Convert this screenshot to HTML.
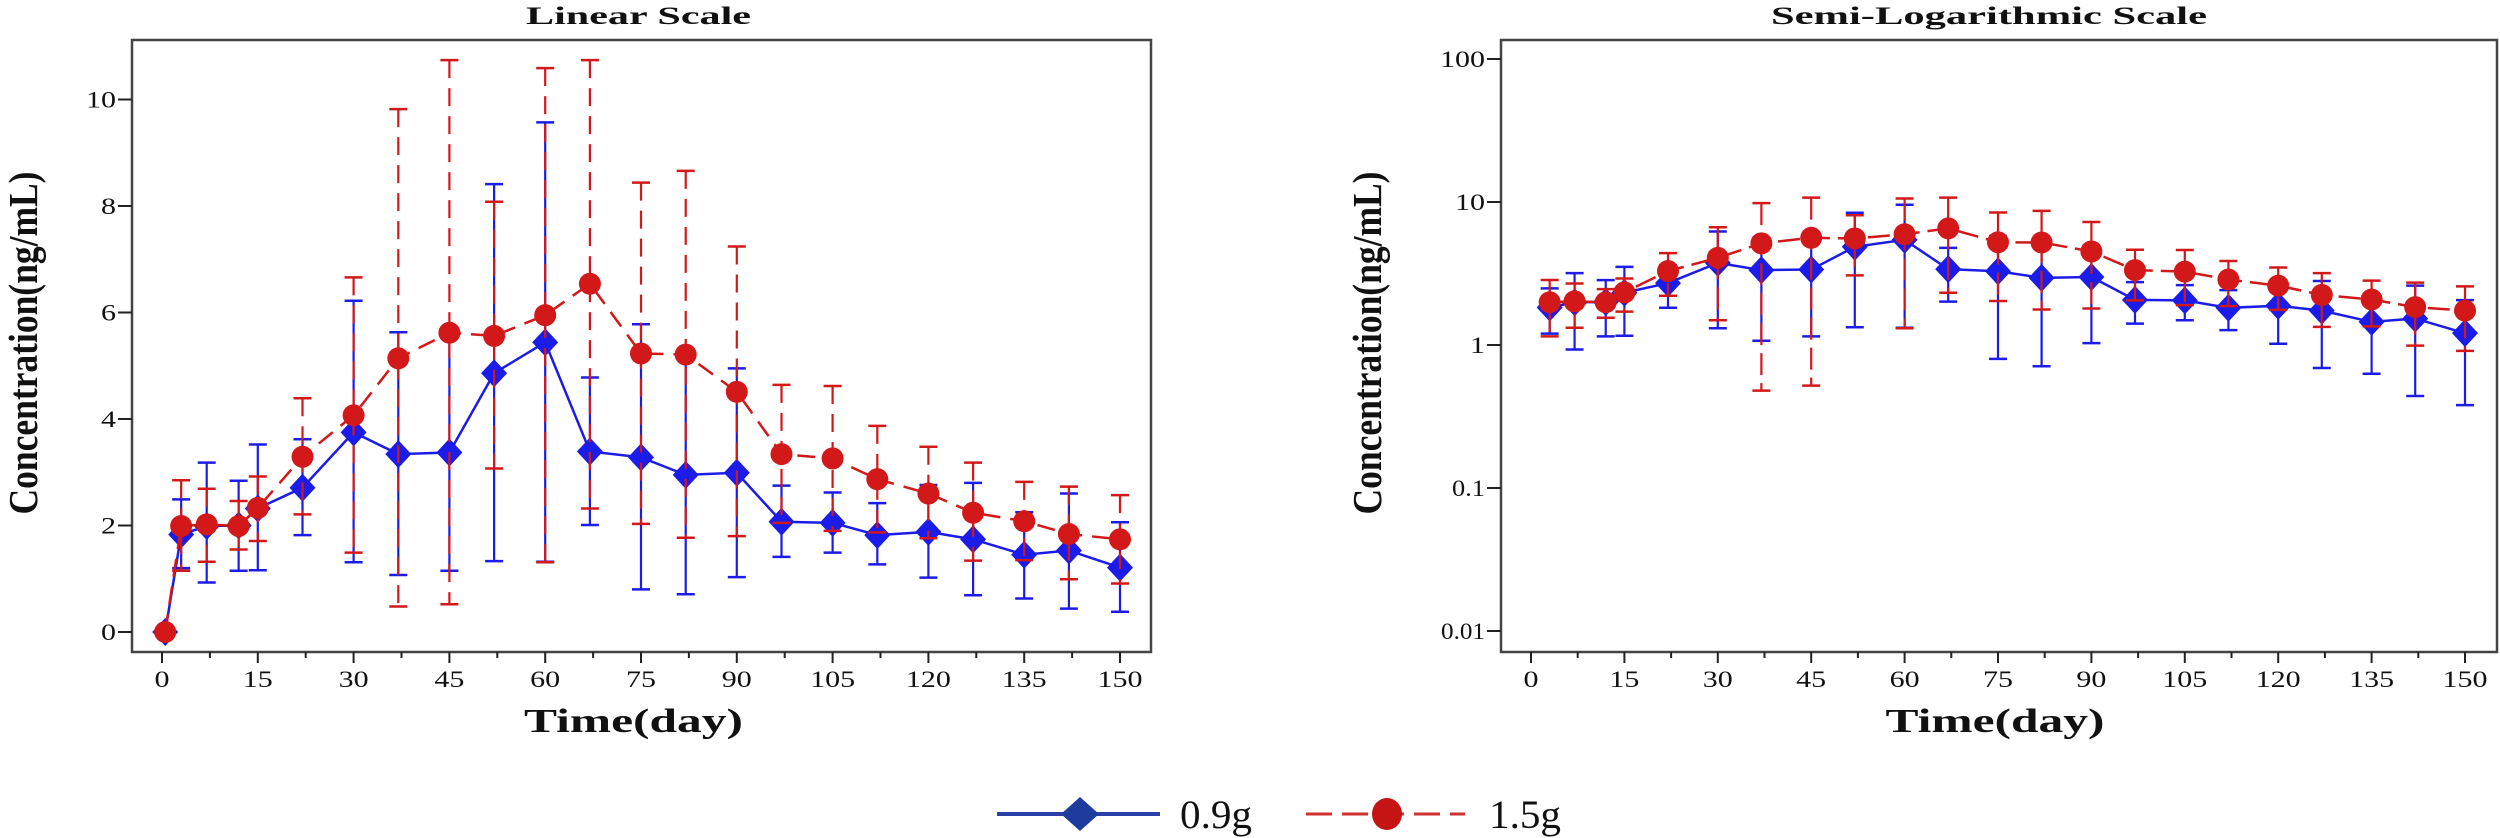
<!DOCTYPE html>
<html><head><meta charset="utf-8"><style>
html,body{margin:0;padding:0;background:#fff;}
svg{display:block;font-family:"Liberation Serif",serif;}
</style></head><body>
<svg id="chart" width="2500" height="838" viewBox="0 0 2500 838" xmlns="http://www.w3.org/2000/svg"></svg>
<script>
// ---- data ----
const times = [0.5,3,7,12,15,22,30,37,45,52,60,67,75,82,90,97,105,112,120,127,135,142,150];
const mean09 = [0,1.83,1.99,2.0,2.32,2.71,3.75,3.34,3.37,4.86,5.44,3.39,3.28,2.95,2.99,2.07,2.05,1.82,1.88,1.74,1.45,1.53,1.21];
const upper09 = [0,2.49,3.18,2.84,3.52,3.62,6.22,5.63,5.61,8.41,9.57,4.78,5.78,5.18,4.95,2.75,2.62,2.42,2.76,2.80,2.25,2.60,2.06];
const lower09 = [0,1.20,0.93,1.15,1.16,1.82,1.31,1.07,1.15,1.33,1.32,2.01,0.80,0.71,1.03,1.41,1.49,1.27,1.02,0.69,0.63,0.44,0.38];
const mean15 = [0,1.99,2.02,1.99,2.33,3.29,4.07,5.14,5.62,5.56,5.95,6.54,5.23,5.21,4.51,3.34,3.26,2.87,2.60,2.24,2.08,1.84,1.74];
const upper15 = [0,2.85,2.69,2.46,2.92,4.39,6.66,9.82,10.74,8.08,10.59,10.74,8.44,8.66,7.24,4.64,4.62,3.87,3.48,3.18,2.82,2.73,2.57];
const lower15 = [0,1.15,1.32,1.55,1.71,2.21,1.49,0.48,0.52,3.07,1.31,2.32,2.03,1.77,1.80,2.05,1.90,1.87,1.76,1.34,1.35,0.99,0.91];
const xTicks = [0,15,30,45,60,75,90,105,120,135,150];
const yTicksLin = [0,2,4,6,8,10];
const yTicksLog = [0.01,0.1,1,10,100];
const yTickLabelsLog = ["0.01","0.1","1","10","100"];

const NS="http://www.w3.org/2000/svg";
const svg=document.getElementById('chart');
function mk(tag,attrs,parent){const e=document.createElementNS(NS,tag);for(const k in attrs)e.setAttribute(k,attrs[k]);(parent||svg).appendChild(e);return e;}

const L={x0:132,x1:1151,y0:40,y1:652};
const R={x0:1501,x1:2497,y0:40,y1:652};
const xL=t=>162+t*(1120-162)/150;
const yL=v=>632-v*53.25;
const xR=t=>1531+t*(2465-1531)/150;
const yR=v=>345-Math.log10(v)*143;

function label(txt,x,y,anchor,size,weight,len,parent){
  const t=mk('text',{x:x,y:y,'text-anchor':anchor,'font-size':size,'font-weight':weight||'normal',fill:'#111'},parent);
  if(len){t.setAttribute('textLength',len);t.setAttribute('lengthAdjust','spacingAndGlyphs');}
  t.textContent=txt;return t;
}

function drawPanel(P,xf,yf,yTicks,yLabels,isLog,title,titleW,name){
  const g=mk('g',{});
  
  
  const frame=mk('rect',{x:P.x0,y:P.y0,width:P.x1-P.x0,height:P.y1-P.y0,fill:'none',stroke:'#444','stroke-width':2.5},g);
  
  
  const tt=label(title,(P.x0+P.x1)/2+(isLog?-10:-3),24,'middle',25,'bold',titleW,g);
  
  
  xTicks.forEach((t,i)=>{
    const x=xf(t);
    mk('line',{x1:x,y1:P.y1,x2:x,y2:P.y1+11,stroke:'#222','stroke-width':2},g);
    if(i<xTicks.length-1){const xm=xf(t+7.5);mk('line',{x1:xm,y1:P.y1,x2:xm,y2:P.y1+6,stroke:'#222','stroke-width':2},g);}
    const s=String(t);
    const tl=label(s,x,687,'middle',23,'normal',s.length*15,g);
    
    
  });
  yTicks.forEach((v,i)=>{
    const y=yf(v);
    mk('line',{x1:P.x0-14,y1:y,x2:P.x0,y2:y,stroke:'#222','stroke-width':2},g);
    const s=yLabels[i];
    const yl=label(s,P.x0-16,y+8,'end',23,'normal',s.length*(s.includes('.')?11:15),g);
    
    
  });
  const xt=label('Time(day)',(P.x0+P.x1)/2+(isLog?-4:-8),732,'middle',34,'bold',219,g);
  
  
  const yx=isLog?1381:37;
  const yt=mk('text',{x:0,y:0,transform:`translate(${yx},343) rotate(-90)`,'text-anchor':'middle','font-size':41,'font-weight':'bold',fill:'#111',textLength:343,lengthAdjust:'spacingAndGlyphs'},g);
  yt.textContent='Concentration(ng/mL)';
  
  

  function series(mean,up,lo,color,dash,marker,sname){
    const sg=mk('g',{},g);
    
    
    const idx=times.map((t,i)=>i).filter(i=>!isLog||times[i]>=2);
    idx.forEach(i=>{
      if(up[i]<=0)return;
      const x=xf(times[i]);
      const eb=mk('g',{},sg);
      
      
      const a={stroke:color,'stroke-width':2.2};
      if(dash)a['stroke-dasharray']=dash;
      mk('line',Object.assign({x1:x,y1:yf(up[i]),x2:x,y2:yf(lo[i])},a),eb);
      mk('line',{x1:x-9,y1:yf(up[i]),x2:x+9,y2:yf(up[i]),stroke:color,'stroke-width':2.5},eb);
      mk('line',{x1:x-9,y1:yf(lo[i]),x2:x+9,y2:yf(lo[i]),stroke:color,'stroke-width':2.5},eb);
    });
    const pts=idx.map(i=>xf(times[i])+','+yf(mean[i])).join(' ');
    const pl=mk('polyline',{points:pts,fill:'none',stroke:color,'stroke-width':2.5},sg);
    if(dash)pl.setAttribute('stroke-dasharray',dash);
    
    
    idx.forEach(i=>{
      const x=xf(times[i]),y=yf(mean[i]);
      let m;
      if(marker==='diamond') m=mk('polygon',{points:`${x},${y-14} ${x+13},${y} ${x},${y+14} ${x-13},${y}`,fill:color},sg);
      else m=mk('ellipse',{cx:x,cy:y,rx:11,ry:11,fill:color},sg);
      
      
    });
  }
  series(mean09,upper09,lower09,'#1c1ce8',null,'diamond','series-0-9g');
  series(mean15,upper15,lower15,'#d21818',isLog?'22,8':'18,10','circle','series-1-5g');
}

drawPanel(L,xL,yL,yTicksLin,yTicksLin.map(String),false,'Linear Scale',225,'linear-scale-panel');
drawPanel(R,xR,yR,yTicksLog,yTickLabelsLog,true,'Semi-Logarithmic Scale',436,'semi-log-scale-panel');

const lg=mk('g',{});


const e1=mk('g',{},lg);


mk('line',{x1:997,y1:814,x2:1160,y2:814,stroke:'#2a3fa8','stroke-width':4},e1);
mk('polygon',{points:'1080,797 1099,814 1080,831 1061,814',fill:'#1d3c9e'},e1);
label('0.9g',1180,828,'start',40,'normal',72,e1);
const e2=mk('g',{},lg);


mk('line',{x1:1306,y1:814,x2:1465,y2:814,stroke:'#d03030','stroke-width':3,'stroke-dasharray':'26,10'},e2);
mk('ellipse',{cx:1387,cy:814,rx:15,ry:16,fill:'#c41414'},e2);
label('1.5g',1489,828,'start',40,'normal',72,e2);
</script>
</body></html>
